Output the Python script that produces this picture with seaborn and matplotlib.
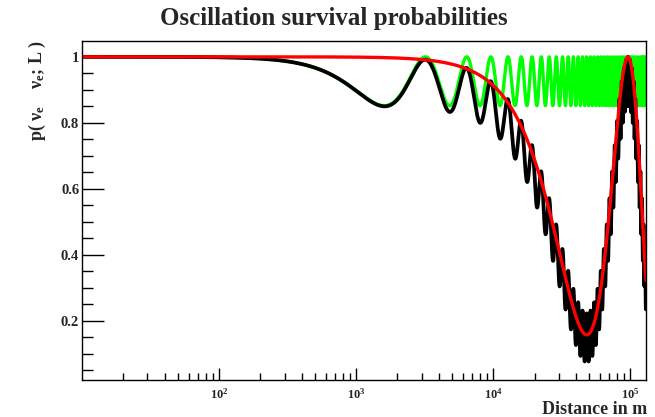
import numpy as np
import pandas as pd
import matplotlib
matplotlib.use("Agg")
import matplotlib.pyplot as plt
import seaborn as sns
from matplotlib.ticker import FixedLocator, NullFormatter

# ---- data ----
distance_range_m = [10.0, 1.3e5]          # x-axis range (log)
solar_first_min_m = [48000.0]             # red curve: first minimum position
atm_first_min_m = [1600.0]                # green curve: first minimum position
red_depth = [0.843]                       # red curve: depth of minimum (1 - 0.157)
green_depth = [0.148]                     # green curve: depth of minimum (1 - 0.852)
black_solar_depth = [0.778]               # black curve: slow-term depth
n_samples = 6000

title = "Oscillation survival probabilities"
xlabel = "Distance in m"
ylabel = r"p( $\nu_e$    $\nu_e$; L )"
y_major = [0.2, 0.4, 0.6, 0.8, 1.0]
y_tick_labels = ["0.2", "0.4", "0.6", "0.8", "1"]
x_major = [1e2, 1e3, 1e4, 1e5]
x_tick_labels = [r"$10^{2}$", r"$10^{3}$", r"$10^{4}$", r"$10^{5}$"]

L = np.logspace(np.log10(distance_range_m[0]), np.log10(distance_range_m[1]), n_samples)
ph_sol = np.pi / 2 * L / solar_first_min_m[0]
ph_atm = np.pi / 2 * L / atm_first_min_m[0]
p_red = 1 - red_depth[0] * np.sin(ph_sol) ** 2
p_green = 1 - green_depth[0] * np.sin(ph_atm) ** 2
p_black = 1 - black_solar_depth[0] * np.sin(ph_sol) ** 2 - green_depth[0] * np.sin(ph_atm) ** 2

df = pd.concat([
    pd.DataFrame({"L": L, "p": p_green, "curve": "atm"}),
    pd.DataFrame({"L": L, "p": p_black, "curve": "full"}),
    pd.DataFrame({"L": L, "p": p_red, "curve": "solar"}),
])

sns.set_style("white")
plt.rcParams["font.family"] = ["Liberation Serif", "DejaVu Serif"]
plt.rcParams["font.weight"] = "bold"
plt.rcParams["mathtext.fontset"] = "custom"
plt.rcParams["mathtext.rm"] = "Liberation Serif:bold"
plt.rcParams["mathtext.it"] = "Liberation Serif:bold"
plt.rcParams["mathtext.bf"] = "Liberation Serif:bold"

fig = plt.figure(figsize=(6.55, 4.17), dpi=100)
ax = fig.add_axes([82 / 655, 37 / 417, (646 - 82) / 655, (380 - 41) / 417])

palette = {"full": "#000000", "atm": "#00ff00", "solar": "#ff0000"}
widths = {"full": 2.7, "atm": 2.4, "solar": 2.4}
for name in ["atm", "full", "solar"]:
    sns.lineplot(data=df[df.curve == name], x="L", y="p", color=palette[name],
                 lw=widths[name], ax=ax, legend=False, estimator=None, sort=False)

ax.set_xscale("log")
ax.set_xlim(*distance_range_m)
ax.set_ylim(0.020, 1.048)
ax.set_xlabel("")
ax.set_ylabel("")

ax.xaxis.set_major_locator(FixedLocator(x_major))
ax.set_xticklabels(x_tick_labels)
minors = [m * 10 ** d for d in range(1, 6) for m in range(2, 10) if m * 10 ** d < distance_range_m[1]]
ax.xaxis.set_minor_locator(FixedLocator(minors))
ax.xaxis.set_minor_formatter(NullFormatter())
ax.yaxis.set_major_locator(FixedLocator(y_major))
ax.set_yticklabels(y_tick_labels)
ax.yaxis.set_minor_locator(FixedLocator([0.05, 0.1, 0.15, 0.25, 0.3, 0.35, 0.45, 0.5, 0.55,
                                         0.65, 0.7, 0.75, 0.85, 0.9, 0.95]))

ax.tick_params(bottom=True, left=True, top=False, right=False, which="both", color="black")
ax.tick_params(axis="x", which="major", direction="in", length=9, width=1, labelsize=9, pad=5)
ax.tick_params(axis="x", which="minor", direction="in", length=5, width=1)
ax.tick_params(axis="y", which="major", direction="in", length=16, width=1, labelsize=10.5, pad=2)
ax.tick_params(axis="y", which="minor", direction="in", length=8, width=1)
for lab in ax.get_xticklabels() + ax.get_yticklabels():
    lab.set_fontweight("bold")
for s in ax.spines.values():
    s.set_color("black")
    s.set_linewidth(1.0)

fig.text(334 / 655, 1 - 19 / 417, title, ha="center", va="center", fontsize=18, fontweight="bold")
fig.text(647 / 655, 1 - 409 / 417, xlabel, ha="right", va="center", fontsize=13, fontweight="bold")
fig.text(37 / 655, 1 - 40 / 417, ylabel, ha="center", va="top", rotation=90, fontsize=13,
         fontweight="bold")

fig.savefig("out.png", dpi=100)
